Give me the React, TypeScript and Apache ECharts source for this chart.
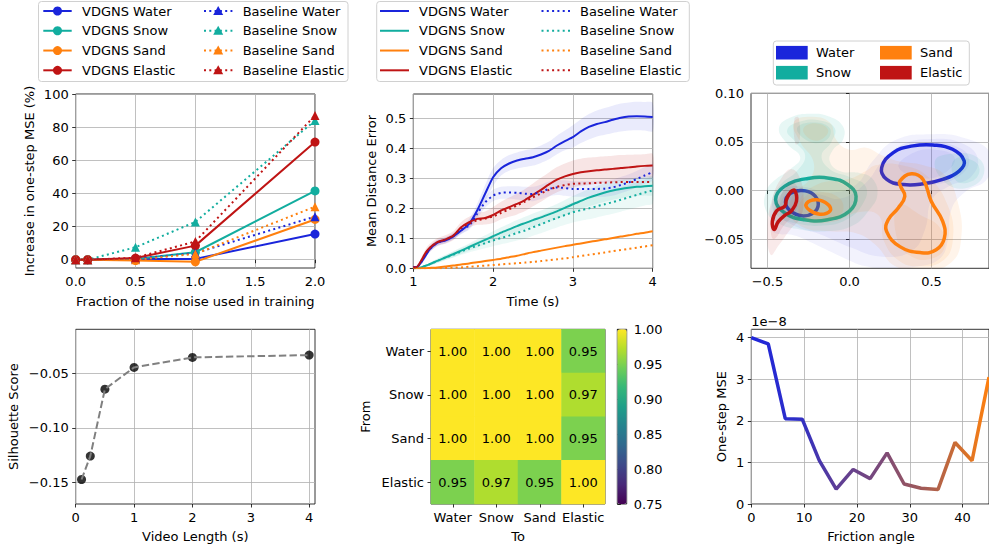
import React, { useEffect, useRef } from 'react';
import * as echarts from 'echarts';

const FONT = 'DejaVu Sans';
const C_WATER = '#1a25db';
const C_SNOW = '#12ad9f';
const C_SAND = '#ff800e';
const C_ELASTIC = '#bf1414';

// ---------- Panel 1: noise fraction ----------
const NOISE_FRACTION = [0, 0.1, 0.5, 1.0, 2.0];
const NOISE_VDGNS_WATER = [0, 0, 0.5, 0.5, 15.5];
const NOISE_VDGNS_SNOW = [0, 0, 0.5, 4.5, 41.5];
const NOISE_VDGNS_SAND = [0, 0, -0.5, -1.3, 24.3];
const NOISE_VDGNS_ELASTIC = [0, 0, 1.0, 8.5, 71];
const NOISE_BASE_WATER = [0, 0, 0.5, 4, 26];
const NOISE_BASE_SNOW = [0, 0, 7.5, 22.8, 84];
const NOISE_BASE_SAND = [0, 0, 0, 3.5, 32];
const NOISE_BASE_ELASTIC = [0, 0, 1.2, 11, 87];

// ---------- Panel 2: mean distance error over time ----------
const TIME_S = [1.0, 1.05, 1.1, 1.15, 1.2, 1.3, 1.4, 1.5, 1.6, 1.7, 1.8, 1.9, 2.0, 2.1, 2.2, 2.3, 2.4, 2.5, 2.6, 2.7, 2.8, 2.9, 3.0, 3.1, 3.2, 3.3, 3.4, 3.5, 3.6, 3.7, 3.8, 3.9, 4.0];
const MDE_VDGNS_WATER = [0.004, 0.005, 0.02, 0.04, 0.062, 0.085, 0.093, 0.106, 0.126, 0.148, 0.193, 0.249, 0.304, 0.334, 0.35, 0.36, 0.366, 0.371, 0.38, 0.392, 0.41, 0.425, 0.438, 0.457, 0.472, 0.482, 0.488, 0.496, 0.503, 0.507, 0.508, 0.507, 0.505];
const MDE_VDGNS_WATER_HI = [0.006, 0.01, 0.028, 0.05, 0.072, 0.095, 0.103, 0.116, 0.138, 0.165, 0.215, 0.278, 0.335, 0.362, 0.378, 0.387, 0.394, 0.4, 0.41, 0.423, 0.443, 0.46, 0.478, 0.498, 0.515, 0.527, 0.535, 0.543, 0.55, 0.554, 0.556, 0.555, 0.552];
const MDE_VDGNS_WATER_LO = [0.002, 0.002, 0.012, 0.03, 0.052, 0.075, 0.083, 0.096, 0.114, 0.132, 0.172, 0.222, 0.275, 0.31, 0.326, 0.333, 0.338, 0.343, 0.352, 0.364, 0.381, 0.394, 0.403, 0.418, 0.43, 0.44, 0.446, 0.452, 0.457, 0.46, 0.461, 0.46, 0.458];
const MDE_VDGNS_ELASTIC = [0.003, 0.005, 0.026, 0.05, 0.067, 0.087, 0.096, 0.109, 0.137, 0.154, 0.165, 0.168, 0.178, 0.193, 0.204, 0.215, 0.228, 0.245, 0.262, 0.28, 0.296, 0.307, 0.315, 0.321, 0.324, 0.327, 0.33, 0.332, 0.335, 0.337, 0.34, 0.342, 0.343];
const MDE_VDGNS_ELASTIC_HI = [0.005, 0.01, 0.036, 0.062, 0.08, 0.1, 0.11, 0.124, 0.155, 0.172, 0.185, 0.19, 0.205, 0.222, 0.236, 0.25, 0.265, 0.283, 0.302, 0.32, 0.338, 0.35, 0.36, 0.366, 0.37, 0.372, 0.374, 0.376, 0.378, 0.379, 0.38, 0.381, 0.382];
const MDE_VDGNS_ELASTIC_LO = [0.001, 0.002, 0.016, 0.038, 0.054, 0.074, 0.082, 0.094, 0.119, 0.136, 0.145, 0.146, 0.151, 0.164, 0.172, 0.18, 0.191, 0.207, 0.222, 0.24, 0.254, 0.264, 0.27, 0.276, 0.278, 0.282, 0.286, 0.288, 0.292, 0.295, 0.3, 0.303, 0.304];
const MDE_VDGNS_SNOW = [0, 0, 0.003, 0.008, 0.013, 0.025, 0.036, 0.047, 0.059, 0.071, 0.083, 0.095, 0.107, 0.119, 0.13, 0.141, 0.151, 0.161, 0.17, 0.18, 0.19, 0.202, 0.214, 0.225, 0.236, 0.245, 0.253, 0.26, 0.265, 0.269, 0.272, 0.274, 0.276];
const MDE_VDGNS_SNOW_HI = [0, 0.001, 0.006, 0.012, 0.018, 0.032, 0.044, 0.057, 0.07, 0.083, 0.097, 0.11, 0.124, 0.137, 0.149, 0.161, 0.172, 0.183, 0.193, 0.204, 0.215, 0.228, 0.241, 0.253, 0.265, 0.275, 0.284, 0.291, 0.296, 0.3, 0.303, 0.305, 0.307];
const MDE_VDGNS_SNOW_LO = [0, 0, 0.001, 0.004, 0.008, 0.018, 0.028, 0.037, 0.048, 0.059, 0.069, 0.08, 0.09, 0.101, 0.111, 0.12, 0.13, 0.139, 0.147, 0.156, 0.165, 0.176, 0.187, 0.197, 0.207, 0.215, 0.222, 0.229, 0.234, 0.238, 0.241, 0.243, 0.245];
const MDE_VDGNS_SAND = [0, 0, 0, 0, 0.001, 0.003, 0.006, 0.009, 0.013, 0.016, 0.02, 0.024, 0.028, 0.032, 0.037, 0.042, 0.048, 0.054, 0.059, 0.064, 0.069, 0.074, 0.079, 0.083, 0.088, 0.092, 0.097, 0.101, 0.106, 0.11, 0.115, 0.119, 0.124];
const MDE_BASE_WATER = [0.003, 0.005, 0.022, 0.045, 0.063, 0.085, 0.094, 0.107, 0.128, 0.143, 0.182, 0.22, 0.243, 0.252, 0.253, 0.252, 0.249, 0.248, 0.255, 0.265, 0.27, 0.268, 0.265, 0.265, 0.265, 0.265, 0.266, 0.27, 0.278, 0.287, 0.298, 0.31, 0.321];
const MDE_BASE_WATER_HI = [0.005, 0.009, 0.03, 0.054, 0.072, 0.094, 0.103, 0.117, 0.14, 0.157, 0.2, 0.238, 0.262, 0.272, 0.274, 0.274, 0.272, 0.272, 0.279, 0.29, 0.295, 0.294, 0.291, 0.291, 0.291, 0.291, 0.293, 0.297, 0.305, 0.314, 0.325, 0.337, 0.348];
const MDE_BASE_WATER_LO = [0.001, 0.002, 0.014, 0.036, 0.054, 0.076, 0.085, 0.097, 0.116, 0.129, 0.164, 0.202, 0.224, 0.232, 0.232, 0.23, 0.226, 0.224, 0.231, 0.24, 0.245, 0.242, 0.239, 0.239, 0.239, 0.239, 0.239, 0.243, 0.251, 0.26, 0.271, 0.283, 0.294];
const MDE_BASE_ELASTIC = [0.003, 0.005, 0.024, 0.048, 0.066, 0.086, 0.095, 0.108, 0.135, 0.15, 0.16, 0.166, 0.173, 0.185, 0.197, 0.21, 0.223, 0.237, 0.25, 0.262, 0.272, 0.278, 0.282, 0.283, 0.284, 0.285, 0.286, 0.287, 0.288, 0.288, 0.288, 0.288, 0.288];
const MDE_BASE_SNOW = [0, 0, 0.003, 0.008, 0.013, 0.024, 0.035, 0.045, 0.056, 0.066, 0.075, 0.084, 0.093, 0.101, 0.109, 0.118, 0.126, 0.137, 0.147, 0.158, 0.168, 0.178, 0.187, 0.194, 0.2, 0.207, 0.214, 0.221, 0.229, 0.237, 0.245, 0.253, 0.26];
const MDE_BASE_SNOW_HI = [0, 0.001, 0.006, 0.012, 0.018, 0.031, 0.043, 0.055, 0.067, 0.079, 0.09, 0.101, 0.112, 0.122, 0.132, 0.143, 0.153, 0.165, 0.177, 0.189, 0.2, 0.211, 0.221, 0.229, 0.236, 0.244, 0.252, 0.26, 0.269, 0.278, 0.287, 0.296, 0.304];
const MDE_BASE_SNOW_LO = [0, 0, 0.001, 0.004, 0.008, 0.017, 0.027, 0.035, 0.045, 0.053, 0.06, 0.067, 0.074, 0.08, 0.086, 0.093, 0.099, 0.109, 0.117, 0.127, 0.136, 0.145, 0.153, 0.159, 0.164, 0.17, 0.176, 0.182, 0.189, 0.196, 0.203, 0.21, 0.216];
const MDE_BASE_SAND = [0, 0, 0, 0, 0, 0, 0.001, 0.002, 0.003, 0.005, 0.007, 0.009, 0.011, 0.013, 0.015, 0.017, 0.019, 0.021, 0.024, 0.027, 0.03, 0.033, 0.037, 0.041, 0.045, 0.049, 0.053, 0.057, 0.061, 0.065, 0.069, 0.073, 0.077];

// ---------- Panel 3: latent KDE (shapes in data coordinates) ----------
const KDE_WATER_FILLS = [
  [[-0.48, -0.038], [-0.47, -0.012], [-0.4, 0.002], [-0.28, 0.004], [-0.12, -0.002], [0.04, 0.006], [0.14, 0.03], [0.28, 0.052], [0.5, 0.058], [0.7, 0.054], [0.86, 0.038], [0.84, 0.012], [0.7, -0.002], [0.62, -0.02], [0.6, -0.05], [0.55, -0.07], [0.42, -0.078], [0.25, -0.08], [0.1, -0.078], [-0.05, -0.068], [-0.2, -0.056], [-0.34, -0.046], [-0.45, -0.044]],
  [[-0.42, -0.025], [-0.4, -0.006], [-0.3, 0.0], [-0.18, -0.004], [-0.05, -0.008], [0.1, 0.008], [0.2, 0.03], [0.32, 0.047], [0.5, 0.053], [0.68, 0.049], [0.78, 0.034], [0.74, 0.014], [0.6, 0.004], [0.5, -0.01], [0.46, -0.04], [0.38, -0.062], [0.2, -0.068], [0.0, -0.058], [-0.18, -0.045], [-0.34, -0.036]],
  [[0.2, 0.018], [0.28, 0.04], [0.45, 0.049], [0.64, 0.046], [0.73, 0.032], [0.66, 0.014], [0.5, 0.006], [0.32, 0.006]],
  [[0.3, 0.024], [0.38, 0.038], [0.52, 0.042], [0.64, 0.034], [0.58, 0.018], [0.44, 0.013]],
  [[-0.38, -0.012], [-0.33, -0.002], [-0.25, 0.0], [-0.19, -0.008], [-0.2, -0.022], [-0.28, -0.027], [-0.36, -0.022]],
];
const KDE_WATER_LINES = [
  [[0.196, 0.0235], [0.267, 0.039], [0.387, 0.0459], [0.508, 0.0469], [0.628, 0.0424], [0.699, 0.0303], [0.668, 0.02], [0.568, 0.0114], [0.448, 0.0069], [0.327, 0.0062], [0.227, 0.0114]],
  [[-0.39, -0.012], [-0.36, -0.003], [-0.29, 0.0], [-0.22, -0.004], [-0.19, -0.014], [-0.22, -0.023], [-0.29, -0.026], [-0.36, -0.021]],
];
const KDE_SNOW_FILLS = [
  [[-0.43, 0.064], [-0.36, 0.075], [-0.24, 0.079], [-0.12, 0.076], [-0.04, 0.066], [-0.04, 0.052], [-0.1, 0.042], [-0.12, 0.03], [-0.06, 0.02], [0.06, 0.018], [0.14, 0.012], [0.17, -0.004], [0.12, -0.02], [0.02, -0.036], [-0.14, -0.042], [-0.3, -0.04], [-0.43, -0.034], [-0.51, -0.02], [-0.51, -0.002], [-0.46, 0.01], [-0.36, 0.022], [-0.3, 0.034], [-0.38, 0.048]],
  [[-0.38, 0.062], [-0.3, 0.071], [-0.18, 0.072], [-0.09, 0.064], [-0.11, 0.05], [-0.17, 0.036], [-0.12, 0.022], [0.0, 0.014], [0.1, 0.004], [0.08, -0.014], [-0.02, -0.03], [-0.16, -0.036], [-0.32, -0.034], [-0.44, -0.026], [-0.47, -0.01], [-0.42, 0.006], [-0.32, 0.02], [-0.27, 0.036], [-0.33, 0.05]],
  [[-0.42, -0.006], [-0.34, 0.008], [-0.2, 0.012], [-0.04, 0.006], [0.04, -0.008], [0.0, -0.024], [-0.14, -0.031], [-0.3, -0.03], [-0.4, -0.022]],
  [[-0.32, 0.064], [-0.22, 0.07], [-0.12, 0.064], [-0.14, 0.052], [-0.24, 0.05]],
  [[0.52, 0.03], [0.64, 0.038], [0.78, 0.034], [0.82, 0.018], [0.74, 0.004], [0.6, 0.006]],
  [[0.64, 0.032], [0.76, 0.03], [0.79, 0.018], [0.72, 0.008], [0.64, 0.012]],
];
const KDE_SNOW_LINES = [
  [[-0.45, -0.0093], [-0.394, 0.0045], [-0.253, 0.0124], [-0.113, 0.0124], [-0.012, 0.0062], [0.04, -0.0059], [-0.002, -0.0214], [-0.133, -0.03], [-0.274, -0.03], [-0.394, -0.0231]],
];
const KDE_SAND_FILLS = [
  [[-0.34, 0.07], [-0.24, 0.076], [-0.12, 0.07], [-0.08, 0.052], [0.0, 0.042], [0.1, 0.044], [0.2, 0.036], [0.3, 0.03], [0.45, 0.026], [0.58, 0.016], [0.66, -0.012], [0.68, -0.05], [0.62, -0.074], [0.46, -0.082], [0.28, -0.078], [0.16, -0.056], [0.04, -0.044], [-0.12, -0.042], [-0.28, -0.038], [-0.36, -0.024], [-0.34, -0.004], [-0.24, 0.012], [-0.22, 0.03], [-0.3, 0.05]],
  [[0.16, 0.026], [0.32, 0.026], [0.48, 0.014], [0.6, -0.016], [0.63, -0.05], [0.57, -0.072], [0.42, -0.078], [0.3, -0.072], [0.21, -0.052], [0.18, -0.026], [0.06, -0.022], [-0.1, -0.032], [-0.28, -0.03], [-0.31, -0.012], [-0.2, 0.006], [0.0, 0.012], [0.1, 0.02]],
  [[0.3, -0.015], [0.44, -0.026], [0.55, -0.038], [0.58, -0.058], [0.5, -0.07], [0.38, -0.068], [0.29, -0.05]],
  [[-0.3, -0.012], [-0.2, -0.002], [-0.06, -0.008], [-0.05, -0.024], [-0.18, -0.03], [-0.29, -0.026]],
  [[-0.28, 0.064], [-0.2, 0.069], [-0.13, 0.062], [-0.18, 0.052], [-0.25, 0.054]],
];
const KDE_SAND_LINES = [
  [[0.307, 0.0097], [0.377, 0.0173], [0.448, 0.0114], [0.498, -0.011], [0.568, -0.0318], [0.578, -0.049], [0.528, -0.061], [0.437, -0.0639], [0.307, -0.0577], [0.226, -0.042], [0.236, -0.03], [0.297, -0.018], [0.337, -0.0059], [0.311, 0.0045]],
  [[-0.262, -0.0135], [-0.2, -0.0095], [-0.13, -0.0145], [-0.118, -0.021], [-0.18, -0.0245], [-0.245, -0.02]],
];
const KDE_ELASTIC_FILLS = [
  [[-0.48, -0.066], [-0.43, -0.056], [-0.36, -0.04], [-0.3, -0.028], [-0.28, -0.01], [-0.3, 0.012], [-0.35, 0.022], [-0.41, 0.014], [-0.47, -0.008], [-0.5, -0.04]],
  [[-0.46, -0.05], [-0.4, -0.036], [-0.33, -0.022], [-0.31, -0.004], [-0.34, 0.008], [-0.4, 0.0], [-0.46, -0.02], [-0.48, -0.04]],
  [[-0.335, 0.074], [-0.31, 0.075], [-0.305, 0.05], [-0.33, 0.048]],
];
const KDE_ELASTIC_LINES = [
  [[-0.334, 0.0], [-0.323, -0.011], [-0.354, -0.021], [-0.394, -0.0255], [-0.434, -0.032], [-0.458, -0.04], [-0.47, -0.0318], [-0.444, -0.021], [-0.394, -0.016], [-0.384, -0.0093], [-0.358, -0.0014]],
];

// ---------- Panel 4: silhouette ----------
const VIDEO_LENGTH = [0.1, 0.25, 0.5, 1, 2, 4];
const SILHOUETTE = [-0.1475, -0.126, -0.0645, -0.0445, -0.0353, -0.0332];

// ---------- Panel 5: transfer heatmap ----------
const MATERIALS = ['Water', 'Snow', 'Sand', 'Elastic'];
const HEAT_WATER = [1.0, 1.0, 1.0, 0.95];
const HEAT_SNOW = [1.0, 1.0, 1.0, 0.97];
const HEAT_SAND = [1.0, 1.0, 1.0, 0.95];
const HEAT_ELASTIC = [0.95, 0.97, 0.95, 1.0];
const VIRIDIS = ['#440154', '#482878', '#3e4989', '#31688e', '#26828e', '#1f9e89', '#35b779', '#6ece58', '#b5de2b', '#fde725'];

// ---------- Panel 6: friction angle ----------
const FRICTION_ANGLE = [0, 3.21, 6.43, 9.64, 12.86, 16.07, 19.29, 22.5, 25.71, 28.93, 32.14, 35.36, 38.57, 41.79, 45.0];
const ONE_STEP_MSE = [4.0e-8, 3.85e-8, 2.05e-8, 2.04e-8, 1.05e-8, 0.36e-8, 0.83e-8, 0.61e-8, 1.23e-8, 0.48e-8, 0.38e-8, 0.35e-8, 1.48e-8, 1.04e-8, 3.05e-8];

const minusFmt = (n: number) => (v: number) => (v < -1e-12 ? '\u2212' : '') + Math.abs(v).toFixed(n);

function rgba(hex: string, a: number) {
  const r = parseInt(hex.slice(1, 3), 16), g = parseInt(hex.slice(3, 5), 16), b = parseInt(hex.slice(5, 7), 16);
  return `rgba(${r},${g},${b},${a})`;
}

function valueAxis(gridIndex: number, min: number, max: number, ticks: number[] | null, fmt: (v: number) => string, extra: any = {}) {
  const ax: any = {
    type: 'value', gridIndex, min, max,
    axisLine: { show: false },
    axisTick: { show: true, length: 3.5, lineStyle: { color: '#000', width: 0.8 } },
    axisLabel: { fontFamily: FONT, fontSize: 13, color: '#000', margin: 7, formatter: fmt },
    splitLine: { show: true, lineStyle: { color: '#b0b0b0', width: 0.8 } },
    ...extra,
  };
  if (ticks) {
    ax.axisTick.customValues = ticks;
    ax.axisLabel.customValues = ticks;
  }
  return ax;
}

function bandSeries(xs: number[], lo: number[], hi: number[], fill: string) {
  return {
    type: 'custom', xAxisIndex: 1, yAxisIndex: 1, clip: true, silent: true, z: 1,
    data: [[xs[0], lo[0]]],
    renderItem: (_p: any, api: any) => {
      const pts: number[][] = [];
      for (let i = 0; i < xs.length; i++) pts.push(api.coord([xs[i], hi[i]]));
      for (let i = xs.length - 1; i >= 0; i--) pts.push(api.coord([xs[i], lo[i]]));
      return { type: 'polygon', shape: { points: pts, smooth: 0.3 }, style: { fill } };
    },
  };
}

function kdeSeries(shapes: number[][][], fill: string | null, stroke: string | null) {
  return {
    type: 'custom', xAxisIndex: 2, yAxisIndex: 2, clip: true, silent: true,
    data: shapes.map((s) => s[0]),
    renderItem: (params: any, api: any) => {
      const pts = shapes[params.dataIndex].map((p) => api.coord(p));
      return {
        type: 'polygon',
        shape: { points: pts, smooth: 0.45 },
        style: stroke ? { fill: 'none', stroke, lineWidth: 3.5 } : { fill },
      };
    },
  };
}

const txt = (text: string, x: number, y: number, rot = 0, align = 'center') => ({
  type: 'text', x, y, rotation: rot, silent: true,
  style: { text, fontSize: 13, fontFamily: FONT, fill: '#000', align, verticalAlign: 'middle', textAlign: align, textVerticalAlign: 'middle' },
});

export default function App() {
  const ref = useRef<HTMLDivElement>(null);
  useEffect(() => {
    if (!ref.current) return;
    const chart = echarts.init(ref.current, null, { renderer: 'svg' });

    const series: any[] = [];
    // Panel 1
    const p1 = [
      { name: 'VDGNS Water', d: NOISE_VDGNS_WATER, c: C_WATER, dot: false },
      { name: 'VDGNS Snow', d: NOISE_VDGNS_SNOW, c: C_SNOW, dot: false },
      { name: 'VDGNS Sand', d: NOISE_VDGNS_SAND, c: C_SAND, dot: false },
      { name: 'VDGNS Elastic', d: NOISE_VDGNS_ELASTIC, c: C_ELASTIC, dot: false },
      { name: 'Baseline Water', d: NOISE_BASE_WATER, c: C_WATER, dot: true },
      { name: 'Baseline Snow', d: NOISE_BASE_SNOW, c: C_SNOW, dot: true },
      { name: 'Baseline Sand', d: NOISE_BASE_SAND, c: C_SAND, dot: true },
      { name: 'Baseline Elastic', d: NOISE_BASE_ELASTIC, c: C_ELASTIC, dot: true },
    ];
    p1.forEach((s) => series.push({
      type: 'line', name: s.name, xAxisIndex: 0, yAxisIndex: 0, clip: false, silent: true, z: 3,
      data: NOISE_FRACTION.map((x, i) => [x, s.d[i]]),
      symbol: s.dot ? 'triangle' : 'circle', symbolSize: 9, showAllSymbol: true,
      itemStyle: { color: s.c },
      lineStyle: { color: s.c, width: 2, type: s.dot ? [2, 3.3] : 'solid', cap: 'butt' },
    }));

    // Panel 2 bands
    series.push(bandSeries(TIME_S, MDE_BASE_SNOW_LO, MDE_BASE_SNOW_HI, rgba(C_SNOW, 0.08)));
    series.push(bandSeries(TIME_S, MDE_VDGNS_SNOW_LO, MDE_VDGNS_SNOW_HI, rgba(C_SNOW, 0.1)));
    series.push(bandSeries(TIME_S, MDE_BASE_WATER_LO, MDE_BASE_WATER_HI, rgba(C_WATER, 0.08)));
    series.push(bandSeries(TIME_S, MDE_VDGNS_ELASTIC_LO, MDE_VDGNS_ELASTIC_HI, rgba(C_ELASTIC, 0.11)));
    series.push(bandSeries(TIME_S, MDE_VDGNS_WATER_LO, MDE_VDGNS_WATER_HI, rgba(C_WATER, 0.09)));
    const p2 = [
      { name: 'VDGNS Water', d: MDE_VDGNS_WATER, c: C_WATER, dot: false },
      { name: 'VDGNS Snow', d: MDE_VDGNS_SNOW, c: C_SNOW, dot: false },
      { name: 'VDGNS Sand', d: MDE_VDGNS_SAND, c: C_SAND, dot: false },
      { name: 'VDGNS Elastic', d: MDE_VDGNS_ELASTIC, c: C_ELASTIC, dot: false },
      { name: 'Baseline Water', d: MDE_BASE_WATER, c: C_WATER, dot: true },
      { name: 'Baseline Snow', d: MDE_BASE_SNOW, c: C_SNOW, dot: true },
      { name: 'Baseline Sand', d: MDE_BASE_SAND, c: C_SAND, dot: true },
      { name: 'Baseline Elastic', d: MDE_BASE_ELASTIC, c: C_ELASTIC, dot: true },
    ];
    p2.forEach((s) => series.push({
      type: 'line', name: s.name, xAxisIndex: 1, yAxisIndex: 1, silent: true, z: 3,
      data: TIME_S.map((t, i) => [t, s.d[i]]), symbol: 'none', smooth: 0.2,
      lineStyle: { color: s.c, width: 2, type: s.dot ? [2, 3.3] : 'solid', cap: 'butt' },
    }));

    // Panel 3 KDE
    series.push(kdeSeries(KDE_WATER_FILLS, rgba(C_WATER, 0.06), null));
    series.push(kdeSeries(KDE_WATER_LINES, null, C_WATER));
    series.push(kdeSeries(KDE_SNOW_FILLS, rgba(C_SNOW, 0.1), null));
    series.push(kdeSeries(KDE_SNOW_LINES, null, C_SNOW));
    series.push(kdeSeries(KDE_SAND_FILLS, rgba(C_SAND, 0.085), null));
    series.push(kdeSeries(KDE_SAND_LINES, null, C_SAND));
    series.push(kdeSeries(KDE_ELASTIC_FILLS, rgba(C_ELASTIC, 0.09), null));
    series.push(kdeSeries(KDE_ELASTIC_LINES, null, C_ELASTIC));

    // Panel 4
    series.push({
      type: 'scatter', xAxisIndex: 3, yAxisIndex: 3, silent: true, clip: false, z: 3,
      data: VIDEO_LENGTH.map((x, i) => [x, SILHOUETTE[i]]), symbolSize: 9, itemStyle: { color: '#000' },
    });
    series.push({
      type: 'line', xAxisIndex: 3, yAxisIndex: 3, silent: true, z: 4, symbol: 'none',
      data: VIDEO_LENGTH.map((x, i) => [x, SILHOUETTE[i]]),
      lineStyle: { color: '#808080', width: 2, type: [7.4, 3.2] },
    });

    // Panel 5 heatmap
    const heatRows = [HEAT_WATER, HEAT_SNOW, HEAT_SAND, HEAT_ELASTIC];
    const heatData: number[][] = [];
    heatRows.forEach((row, r) => row.forEach((v, c) => heatData.push([c, r, v])));
    const heatIndex = series.length;
    series.push({
      type: 'heatmap', xAxisIndex: 4, yAxisIndex: 4, silent: true, data: heatData,
      label: { show: true, formatter: (p: any) => p.value[2].toFixed(2), fontFamily: FONT, fontSize: 13, color: '#000' },
    });

    // Panel 6
    series.push({
      type: 'line', xAxisIndex: 5, yAxisIndex: 5, silent: true, symbol: 'none', clip: false,
      data: FRICTION_ANGLE.map((x, i) => [x, ONE_STEP_MSE[i]]),
      lineStyle: {
        width: 3.5,
        color: new echarts.graphic.LinearGradient(0, 0, 1, 0, [
          { offset: 0, color: '#1f26dc' },
          { offset: 0.2, color: '#2f2fc6' },
          { offset: 0.36, color: '#5d3d96' },
          { offset: 0.55, color: '#7c4a78' },
          { offset: 0.72, color: '#a05a58' },
          { offset: 0.88, color: '#d06f30' },
          { offset: 1, color: '#ff800e' },
        ]),
      },
    });

    const gridBase = { show: true, borderColor: '#000', borderWidth: 0.8, backgroundColor: 'transparent' };
    const grids = [
      { left: 75.7, top: 94, width: 239.3, height: 174 },
      { left: 413.3, top: 94, width: 239.4, height: 174.3 },
      { left: 751, top: 93.3, width: 240.7, height: 175 },
      { left: 75.7, top: 329.3, width: 239.3, height: 174.7 },
      { left: 431, top: 329.3, width: 174, height: 174.7 },
      { left: 751.3, top: 329.3, width: 239.4, height: 174.7 },
      { left: 617.3, top: 329.3, width: 9.4, height: 174.7 },
    ].map((g) => ({ ...gridBase, ...g }));

    const catAxis = (gridIndex: number, extra: any) => ({
      type: 'category', gridIndex, data: MATERIALS,
      axisLine: { show: false },
      axisTick: { show: true, length: 3.5, alignWithLabel: true, lineStyle: { color: '#000', width: 0.8 } },
      axisLabel: { fontFamily: FONT, fontSize: 13, color: '#000', margin: 7, interval: 0 },
      splitLine: { show: false },
      ...extra,
    });

    const xAxis = [
      valueAxis(0, 0, 2, [0, 0.5, 1, 1.5, 2], (v) => v.toFixed(1)),
      valueAxis(1, 1, 4, [1, 2, 3, 4], (v) => String(v)),
      valueAxis(2, -0.6, 0.85, [-0.5, 0, 0.5], minusFmt(1)),
      valueAxis(3, 0, 4.1, [0, 1, 2, 3, 4], (v) => String(v)),
      catAxis(4, {}),
      valueAxis(5, 0, 45, [0, 10, 20, 30, 40], (v) => String(v)),
      { type: 'value', gridIndex: 6, min: 0, max: 1, show: false },
    ];
    const yAxis = [
      valueAxis(0, -5, 100, [0, 20, 40, 60, 80, 100], (v) => String(v)),
      valueAxis(1, 0, 0.582, [0, 0.1, 0.2, 0.3, 0.4, 0.5], (v) => v.toFixed(1)),
      valueAxis(2, -0.08, 0.1, [-0.05, 0, 0.05, 0.1], minusFmt(2)),
      valueAxis(3, -0.17, -0.0095, [-0.15, -0.1, -0.05], minusFmt(2)),
      catAxis(4, { inverse: true }),
      valueAxis(5, 0, 4.2e-8, [0, 1e-8, 2e-8, 3e-8, 4e-8], (v) => String(Math.round(v * 1e8))),
      valueAxis(6, 0.75, 1.0, null, (v) => v.toFixed(2), { position: 'right', interval: 0.05, splitLine: { show: false } }),
    ];

    // Legends and titles
    const graphics: any[] = [];
    const rowY = (i: number) => 11 + 19.77 * i;
    const tri = (cx: number, cy: number, fill: string) => ({
      type: 'polygon', silent: true, shape: { points: [[cx, cy - 5], [cx + 5, cy + 4], [cx - 5, cy + 4]] }, style: { fill },
    });
    graphics.push({ type: 'rect', silent: true, shape: { x: 38.5, y: 1.5, width: 309.5, height: 80, r: 3 }, style: { fill: 'rgba(255,255,255,0.8)', stroke: '#d0d0d0', lineWidth: 1 } });
    graphics.push({ type: 'rect', silent: true, shape: { x: 376.7, y: 1.5, width: 312.6, height: 80, r: 3 }, style: { fill: 'rgba(255,255,255,0.8)', stroke: '#d0d0d0', lineWidth: 1 } });
    p1.forEach((s, k) => {
      const col = k < 4 ? 0 : 1;
      const y = rowY(k % 4);
      const x0 = col === 0 ? 43.3 : 204;
      graphics.push({ type: 'line', silent: true, shape: { x1: x0, y1: y, x2: x0 + 28.4, y2: y }, style: { stroke: s.c, lineWidth: 2, lineDash: s.dot ? [2, 3.3] : null } });
      if (s.dot) graphics.push(tri(x0 + 14.2, y, s.c));
      else graphics.push({ type: 'circle', silent: true, shape: { cx: x0 + 14.2, cy: y, r: 4.5 }, style: { fill: s.c } });
      graphics.push(txt(s.name, col === 0 ? 82 : 242.7, y, 0, 'left'));
      const x1 = col === 0 ? 380 : 541.5;
      graphics.push({ type: 'line', silent: true, shape: { x1, y1: y, x2: x1 + 29, y2: y }, style: { stroke: s.c, lineWidth: 2, lineDash: s.dot ? [2, 3.3] : null } });
      graphics.push(txt(s.name, col === 0 ? 419 : 580, y, 0, 'left'));
    });
    graphics.push({ type: 'rect', silent: true, shape: { x: 773.3, y: 41, width: 196, height: 44, r: 3 }, style: { fill: 'rgba(255,255,255,0.8)', stroke: '#d0d0d0', lineWidth: 1 } });
    const kdeLegend = [
      { n: 'Water', c: C_WATER, x: 776, y: 52.7 },
      { n: 'Snow', c: C_SNOW, x: 776, y: 72.7 },
      { n: 'Sand', c: C_SAND, x: 880, y: 52.7 },
      { n: 'Elastic', c: C_ELASTIC, x: 880, y: 72.7 },
    ];
    kdeLegend.forEach((l) => {
      graphics.push({ type: 'rect', silent: true, shape: { x: l.x, y: l.y - 6.8, width: 31.7, height: 13.6 }, style: { fill: l.c } });
      graphics.push(txt(l.n, l.x + 40, l.y, 0, 'left'));
    });
    const R = Math.PI / 2;
    graphics.push(txt('Increase in one-step MSE (%)', 29.3, 181, R));
    graphics.push(txt('Fraction of the noise used in training', 195.3, 301.7));
    graphics.push(txt('Mean Distance Error', 371.7, 181, R));
    graphics.push(txt('Time (s)', 533, 301.7));
    graphics.push(txt('Silhouette Score', 13.3, 416.7, R));
    graphics.push(txt('Video Length (s)', 195.3, 536.7));
    graphics.push(txt('From', 365, 416.7, R));
    graphics.push(txt('To', 518, 536.7));
    graphics.push(txt('One-step MSE', 721.7, 416.7, R));
    graphics.push(txt('Friction angle', 871, 536.7));
    graphics.push(txt('1e\u22128', 751.3, 321.7, 0, 'left'));

    chart.setOption({
      animation: false,
      backgroundColor: '#fff',
      textStyle: { fontFamily: FONT },
      grid: grids,
      xAxis,
      yAxis,
      visualMap: {
        type: 'continuous', seriesIndex: heatIndex, min: 0.75, max: 1.0, orient: 'vertical',
        left: 617.3, top: 329.3, itemWidth: 9.4, itemHeight: 174.7, padding: 0,
        calculable: false, inRange: { color: VIRIDIS },
      },
      series,
      graphic: { elements: graphics },
    });
    return () => chart.dispose();
  }, []);
  return <div ref={ref} style={{ position: 'absolute', left: 0, top: 0, width: 989, height: 550, background: '#fff' }} />;
}
